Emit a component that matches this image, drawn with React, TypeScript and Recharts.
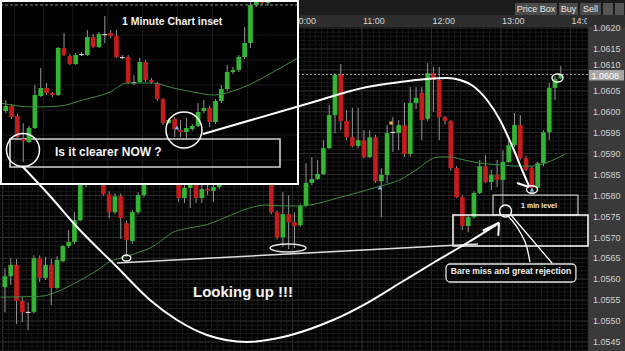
import React from 'react';
import {
  ComposedChart, Bar, Line, XAxis, YAxis, CartesianGrid,
  ReferenceLine, ReferenceArea, ReferenceDot,
} from 'recharts';

// ---------------- main 5 minute chart (EUR/USD) ----------------
const mainOpen = [
  1.05581, 1.05607, 1.05634, 1.05548, 1.05521, 1.05522, 1.05650, 1.05603, 1.05634, 1.05579,
  1.05643, 1.05679, 1.05689, 1.05741, 1.05830, 1.05870, 1.05845, 1.05880, 1.05803, 1.05760,
  1.05798, 1.05734, 1.05691, 1.05760, 1.05801, 1.05840, 1.05880, 1.05860, 1.05895, 1.05870,
  1.05885, 1.05794, 1.05818, 1.05845, 1.05794, 1.05815, 1.05811, 1.05820, 1.05840, 1.05870,
  1.05900, 1.05880, 1.05910, 1.05890, 1.05920, 1.05900, 1.05860, 1.05760, 1.05700, 1.05755,
  1.05736, 1.05729, 1.05775, 1.05830, 1.05839, 1.05851, 1.05913, 1.05992, 1.06088, 1.05978,
  1.05939, 1.05918, 1.05932, 1.05892, 1.05939, 1.05834, 1.05849, 1.05951, 1.05949, 1.05968,
  1.05899, 1.06021, 1.06045, 1.05983, 1.06092, 1.06076, 1.05987, 1.05978, 1.05865, 1.05796,
  1.05727, 1.05748, 1.05806, 1.05870, 1.05832, 1.05849, 1.05837, 1.05880, 1.05920, 1.05968,
  1.05889, 1.05865, 1.05818, 1.05877, 1.05951, 1.06057, 1.06080,
];
const mainHigh = [
  1.05626, 1.05650, 1.05648, 1.05557, 1.05545, 1.05657, 1.05657, 1.05653, 1.05648, 1.05655,
  1.05681, 1.05717, 1.05760, 1.05845, 1.05880, 1.05885, 1.05895, 1.05890, 1.05810, 1.05805,
  1.05805, 1.05740, 1.05765, 1.05808, 1.05850, 1.05885, 1.05890, 1.05900, 1.05905, 1.05895,
  1.05895, 1.05830, 1.05850, 1.05860, 1.05825, 1.05828, 1.05828, 1.05850, 1.05875, 1.05905,
  1.05910, 1.05915, 1.05920, 1.05925, 1.05930, 1.05910, 1.05880, 1.05765, 1.05808, 1.05800,
  1.05760, 1.05780, 1.05877, 1.05892, 1.05885, 1.05932, 1.06016, 1.06092, 1.06114, 1.06004,
  1.06009, 1.06009, 1.05956, 1.05956, 1.05945, 1.05865, 1.05968, 1.05987, 1.05980, 1.06021,
  1.06059, 1.06059, 1.06059, 1.06116, 1.06107, 1.06107, 1.05990, 1.05980, 1.05870, 1.05800,
  1.05752, 1.05810, 1.05885, 1.05896, 1.05861, 1.05885, 1.05908, 1.05932, 1.05997, 1.05992,
  1.05895, 1.05870, 1.05880, 1.05956, 1.06069, 1.06085, 1.06109,
];
const mainLow = [
  1.05521, 1.05586, 1.05493, 1.05497, 1.05478, 1.05518, 1.05593, 1.05598, 1.05538, 1.05576,
  1.05641, 1.05674, 1.05684, 1.05738, 1.05820, 1.05835, 1.05840, 1.05800, 1.05746, 1.05755,
  1.05696, 1.05655, 1.05684, 1.05755, 1.05795, 1.05830, 1.05850, 1.05855, 1.05865, 1.05860,
  1.05784, 1.05782, 1.05770, 1.05782, 1.05782, 1.05801, 1.05784, 1.05815, 1.05835, 1.05865,
  1.05870, 1.05875, 1.05880, 1.05885, 1.05890, 1.05850, 1.05755, 1.05695, 1.05677, 1.05672,
  1.05674, 1.05725, 1.05772, 1.05825, 1.05837, 1.05849, 1.05911, 1.05949, 1.05956, 1.05932,
  1.05915, 1.05913, 1.05889, 1.05889, 1.05830, 1.05748, 1.05830, 1.05904, 1.05908, 1.05892,
  1.05892, 1.06006, 1.05932, 1.05978, 1.06000, 1.05932, 1.05970, 1.05860, 1.05794, 1.05717,
  1.05712, 1.05745, 1.05803, 1.05830, 1.05813, 1.05820, 1.05772, 1.05877, 1.05915, 1.05885,
  1.05858, 1.05806, 1.05813, 1.05870, 1.05932, 1.06028, 1.06078,
];
const mainClose = [
  1.05607, 1.05634, 1.05548, 1.05521, 1.05522, 1.05650, 1.05603, 1.05634, 1.05579, 1.05646,
  1.05679, 1.05689, 1.05741, 1.05830, 1.05870, 1.05845, 1.05880, 1.05803, 1.05760, 1.05798,
  1.05746, 1.05693, 1.05760, 1.05801, 1.05840, 1.05880, 1.05860, 1.05895, 1.05870, 1.05885,
  1.05794, 1.05818, 1.05840, 1.05794, 1.05815, 1.05811, 1.05820, 1.05840, 1.05870, 1.05900,
  1.05880, 1.05910, 1.05890, 1.05920, 1.05900, 1.05860, 1.05760, 1.05700, 1.05755, 1.05736,
  1.05727, 1.05775, 1.05830, 1.05839, 1.05851, 1.05913, 1.05992, 1.06088, 1.05978, 1.05939,
  1.05918, 1.05932, 1.05892, 1.05939, 1.05834, 1.05849, 1.05949, 1.05952, 1.05968, 1.05899,
  1.06021, 1.06033, 1.05980, 1.06092, 1.06076, 1.05987, 1.05978, 1.05865, 1.05796, 1.05727,
  1.05748, 1.05806, 1.05870, 1.05832, 1.05849, 1.05837, 1.05880, 1.05920, 1.05968, 1.05889,
  1.05861, 1.05818, 1.05877, 1.05951, 1.06057, 1.06078, 1.06088,
];

// moving average of the main chart (candle index, price)
const maMainIdx = [-0.8, 6, 10, 12, 16, 18, 21, 23, 25, 27, 29, 31, 35, 39, 42, 45, 48, 51, 54, 58, 61, 65, 68, 71.7, 73.4, 75.1, 76.9, 78.6, 82, 85.5, 88.9, 90.7, 93.3, 96.7];
const maMainVal = [1.05557, 1.05559, 1.05576, 1.05590, 1.05622, 1.05641, 1.05654, 1.05664, 1.05674, 1.05692, 1.05712, 1.05720, 1.05731, 1.05753, 1.05769, 1.05777, 1.05775, 1.05775, 1.05781, 1.05796, 1.05807, 1.05823, 1.05836, 1.05868, 1.05885, 1.05892, 1.05892, 1.05887, 1.05877, 1.05873, 1.05870, 1.05870, 1.05877, 1.05899];

const timeTickIdx = [49.66, 61.66, 73.66, 85.66, 97.66];
const timeTickLabels = ['10:00', '11:00', '12:00', '13:00', '14:00'];
const priceTicks = [1.0545, 1.055, 1.0555, 1.056, 1.0565, 1.057, 1.0575, 1.058, 1.0585, 1.059, 1.0595, 1.06, 1.0605, 1.061, 1.0615, 1.062];
const currentPrice = 1.06089;
const currentPriceLabel = '1.0608';

// ---------------- 1 minute inset ----------------
const insetOpen = [
  1.05689, 1.05694, 1.05684, 1.05661, 1.05658, 1.05672, 1.05704, 1.05712, 1.05707, 1.05705,
  1.05752, 1.05744, 1.05736, 1.05746, 1.05745, 1.05763, 1.05753, 1.05766, 1.05767, 1.05764,
  1.05743, 1.05743, 1.05718, 1.05718, 1.05738, 1.05720, 1.05717, 1.05701, 1.05677, 1.05681,
  1.05670, 1.05668, 1.05671, 1.05674, 1.05689, 1.05692, 1.05678, 1.05699, 1.05711, 1.05728,
  1.05730, 1.05743, 1.05757, 1.05795, 1.05808, 1.05797,
];
const insetHigh = [
  1.05700, 1.05696, 1.05686, 1.05677, 1.05674, 1.05715, 1.05732, 1.05717, 1.05708, 1.05753,
  1.05767, 1.05746, 1.05747, 1.05748, 1.05770, 1.05766, 1.05768, 1.05784, 1.05770, 1.05770,
  1.05745, 1.05745, 1.05725, 1.05742, 1.05740, 1.05722, 1.05718, 1.05702, 1.05682, 1.05683,
  1.05680, 1.05682, 1.05676, 1.05697, 1.05700, 1.05694, 1.05701, 1.05715, 1.05735, 1.05733,
  1.05745, 1.05773, 1.05798, 1.05808, 1.05810, 1.05812,
];
const insetLow = [
  1.05687, 1.05681, 1.05661, 1.05638, 1.05657, 1.05671, 1.05703, 1.05705, 1.05703, 1.05704,
  1.05744, 1.05735, 1.05735, 1.05744, 1.05744, 1.05752, 1.05752, 1.05757, 1.05762, 1.05742,
  1.05741, 1.05716, 1.05715, 1.05717, 1.05718, 1.05716, 1.05699, 1.05675, 1.05676, 1.05663,
  1.05663, 1.05661, 1.05669, 1.05673, 1.05687, 1.05673, 1.05676, 1.05697, 1.05709, 1.05726,
  1.05728, 1.05741, 1.05752, 1.05793, 1.05795, 1.05795,
];
const insetClose = [
  1.05694, 1.05683, 1.05663, 1.05659, 1.05672, 1.05705, 1.05712, 1.05707, 1.05705, 1.05752,
  1.05745, 1.05736, 1.05745, 1.05746, 1.05763, 1.05753, 1.05766, 1.05766, 1.05764, 1.05743,
  1.05743, 1.05717, 1.05718, 1.05738, 1.05720, 1.05718, 1.05701, 1.05677, 1.05680, 1.05671,
  1.05668, 1.05672, 1.05674, 1.05688, 1.05692, 1.05678, 1.05699, 1.05711, 1.05728, 1.05730,
  1.05743, 1.05757, 1.05795, 1.05804, 1.05797, 1.05806,
];
const insetMaIdx = [-1, 4.7, 9.3, 13.2, 17.9, 20.8, 25.3, 28.7, 32.1, 35.6, 39, 42.4, 45.9, 50.1];
const insetMaVal = [1.05697, 1.05693, 1.05694, 1.05700, 1.05708, 1.05717, 1.05717, 1.05712, 1.05708, 1.05705, 1.05709, 1.05717, 1.05728, 1.05742];
const insetLastPrice = 1.05795;

// ---------------- hand drawn annotations (main chart coordinates) ----------------
const arcIdx = [34.2, 52.68, 62.52, 68.22, 72.88, 76.34, 78.58, 80.83, 83.25, 85.49, 87.74, 89.46, 90.5];
const arcVal = [1.059468, 1.060208, 1.06059, 1.06071, 1.060782, 1.060806, 1.060758, 1.060614, 1.06028, 1.059802, 1.059133, 1.05856, 1.058225];
const lookIdx = [2.94, 7.77, 12.44, 19.34, 25.04, 29.71, 34.89, 41.8, 48.01, 52.68, 56.65, 62.52, 68.22, 73.92, 79.79, 85.32];
const lookVal = [1.058703, 1.057986, 1.057246, 1.05629, 1.055502, 1.055024, 1.054666, 1.054499, 1.054618, 1.054809, 1.055024, 1.05543, 1.055908, 1.056386, 1.056864, 1.057341];
const rejIdx = [86.87, 88.94, 90.16, 90.67];
const rejVal = [1.057509, 1.057126, 1.056744, 1.05641];

const FONT = '"Liberation Sans", Arial, sans-serif';
const UP = '#33b533';
const DOWN = '#c21c1c';
const DOJI = '#d4d4d4';
const WICK = '#979797';
const MA = '#3f8c3f';
const PLOT_RIGHT = 588;

const MAIN_X: [number, number] = [-0.864, 100.69];
const MAIN_Y: [number, number] = [1.054284, 1.062024];
const INSET_X: [number, number] = [-0.995, 50.32];
const INSET_Y: [number, number] = [1.05615, 1.058];

const Candle = (props: any) => {
  const { x, y, width, height } = props;
  const d = props.payload || props;
  const { o, h, l, c } = d;
  if (x == null || y == null) return null;
  const cx = x + width / 2;
  const span = h - l || 1e-9;
  const toY = (v: number) => y + ((h - v) / span) * height;
  const top = toY(Math.max(o, c));
  const bot = toY(Math.min(o, c));
  const doji = Math.abs(c - o) < 0.000015;
  const col = doji ? DOJI : c >= o ? UP : DOWN;
  const bw = 4.7;
  return (
    <g>
      <line x1={cx} x2={cx} y1={y} y2={y + height} stroke={WICK} strokeWidth={1} />
      <rect x={cx - bw / 2} y={top} width={bw} height={Math.max(bot - top, 1.2)} fill={col} />
    </g>
  );
};

// time labels start at the hour line; the last one is cut by the price panel
const TimeTick = (p: any) => {
  const k = timeTickIdx.indexOf(p.payload.value);
  const w = Math.max(0, Math.min(30, PLOT_RIGHT - 1 - p.x));
  return (
    <svg x={p.x} y={p.y - 10} width={w} height={12} overflow="hidden">
      <text x={1} y={10} fill="#d6d6d6" fontSize={9} fontFamily={FONT}>
        {timeTickLabels[k]}
      </text>
    </svg>
  );
};

// price labels; 1.0610 sits just above the current-price tag
const PriceTickLabel = (p: any) => {
  const v = p.payload.value;
  const nudge = Math.abs(v - 1.061) < 1e-7 ? -5 : 0;
  return (
    <text x={p.x} y={p.y + 3.2 + nudge} fill="#d2d2d2" fontSize={9} fontFamily={FONT}>
      {Number(v).toFixed(4)}
    </text>
  );
};

const PriceTag = (p: any) => {
  const vb = p.viewBox || {};
  const x = (vb.x || 0) + (vb.width || 0);
  const y = vb.y || 0;
  return (
    <g>
      <rect x={x + 1} y={y - 4.5} width={35} height={10.5} fill="#a6a6a6" />
      <text x={x + 3.5} y={y + 4.2} fill="#ffffff" fontSize={9} fontFamily={FONT}>{currentPriceLabel}</text>
    </g>
  );
};

const ellipseShape = (rx: number, ry: number, color = '#ffffff', sw = 1.4) => (p: any) => (
  <ellipse cx={p.cx} cy={p.cy} rx={rx} ry={ry} fill="none" stroke={color} strokeWidth={sw} />
);
const triShape = (color: string) => (p: any) => (
  <path d={`M${p.cx},${p.cy - 2.5} L${p.cx + 2.2},${p.cy + 1.5} L${p.cx - 2.2},${p.cy + 1.5} Z`} fill={color} />
);
const sqShape = (color: string) => (p: any) => (
  <rect x={p.cx - 1.6} y={p.cy - 1.6} width={3.2} height={3.2} fill={color} />
);

const range = (a: number, b: number) => {
  const out: number[] = [];
  for (let k = a; k <= b; k++) out.push(k);
  return out;
};

export default function App() {
  const mainRows = mainOpen.map((o, i) => ({
    i, o, h: mainHigh[i], l: mainLow[i], c: mainClose[i], range: [mainLow[i], mainHigh[i]],
  }));
  const insetRows = insetOpen.map((o, i) => ({
    i, o, h: insetHigh[i], l: insetLow[i], c: insetClose[i], range: [insetLow[i], insetHigh[i]],
  }));
  const maMain = maMainIdx.map((i, k) => ({ i, v: maMainVal[k] }));
  const maInset = insetMaIdx.map((i, k) => ({ i, v: insetMaVal[k] }));
  const arc = arcIdx.map((i, k) => ({ i, v: arcVal[k] }));
  const look = lookIdx.map((i, k) => ({ i, v: lookVal[k] }));
  const rej = rejIdx.map((i, k) => ({ i, v: rejVal[k] }));

  const minorH = range(10543, 10620).map((k) => k / 10000);
  const minorV = range(0, 101).map((k) => k - 0.34);
  const insetH = range(211230, 211600).filter((k) => k % 10 === 0).map((k) => k / 200000);
  const insetV = range(0, 51).map((k) => k - 0.5);

  const btn = (label: string, left: number, width: number) => (
    <div key={label} style={{
      position: 'absolute', left, top: 3, width, height: 12, background: '#4b4b4b',
      color: '#e8e8e8', fontSize: 9, lineHeight: '12px', textAlign: 'center', fontFamily: FONT,
    }}>{label}</div>
  );

  return (
    <div style={{ position: 'absolute', left: 0, top: 0, width: 625, height: 351, background: '#000', overflow: 'hidden', fontFamily: FONT }}>
      {/* window chrome */}
      <div style={{ position: 'absolute', left: 0, top: 0, width: 625, height: 15, background: '#1c1c1c' }} />
      <div style={{ position: 'absolute', left: 0, top: 15, width: 625, height: 12, background: '#2e2e2e' }} />
      <div style={{ position: 'absolute', left: 588, top: 27, width: 37, height: 324, background: '#3a3a3a' }} />
      <div style={{ position: 'absolute', left: 2, top: 27, width: 1, height: 324, background: '#3a3a3a' }} />

      {/* main chart */}
      <div style={{ position: 'absolute', left: 0, top: 0 }}>
        <ComposedChart width={625} height={351} data={mainRows} margin={{ top: 15, right: 0, bottom: 0, left: 0 }}>
          <CartesianGrid stroke="#191919" horizontalValues={minorH} verticalValues={minorV} />
          <CartesianGrid stroke="#2b2b2b" horizontalValues={priceTicks} verticalValues={timeTickIdx} />
          <XAxis dataKey="i" type="number" orientation="top" height={12} domain={MAIN_X} allowDataOverflow
            ticks={timeTickIdx} interval={0} tick={TimeTick} tickLine={false} axisLine={false} tickSize={0} tickMargin={3} />
          <YAxis type="number" orientation="right" width={37} domain={MAIN_Y} allowDataOverflow
            ticks={priceTicks} interval={0} tick={PriceTickLabel} tickLine={false} axisLine={false} tickSize={0} tickMargin={5} />
          <ReferenceLine y={currentPrice} stroke="#a0a0a0" strokeDasharray="2 2" />
          <Line data={maMain} dataKey="v" type="monotone" stroke={MA} strokeWidth={1} dot={false} isAnimationActive={false} />
          <Bar dataKey="range" barSize={5} shape={Candle} isAnimationActive={false} />
          <ReferenceDot x={64.77} y={1.058178} r={2} shape={triShape('#7fb8e8')} />
          <ReferenceDot x={91.02} y={1.05813} r={2} shape={triShape('#7fb8e8')} />
          <ReferenceDot x={66.67} y={1.05973} r={2} shape={sqShape('#f2b04c')} />
        </ComposedChart>
      </div>

      {/* top toolbar */}
      {btn('Price Box', 515, 42)}
      {btn('Buy', 559, 19)}
      {btn('Sell', 580, 21)}
      <div style={{ position: 'absolute', left: 603, top: 3, width: 10, height: 12, background: '#555' }} />
      <div style={{ position: 'absolute', left: 615, top: 3, width: 9, height: 12, background: '#555' }} />

      {/* 1 minute inset */}
      <div style={{ position: 'absolute', left: 0, top: 0, width: 299, height: 185, background: '#000' }}>
        <ComposedChart width={299} height={185} data={insetRows} margin={{ top: 0, right: 0, bottom: 0, left: 0 }}>
          <CartesianGrid stroke="#1b1b1b" horizontalValues={insetH} verticalValues={insetV} />
          <XAxis dataKey="i" type="number" domain={INSET_X} allowDataOverflow hide />
          <YAxis type="number" domain={INSET_Y} allowDataOverflow hide />
          <ReferenceLine y={insetLastPrice} stroke="#8c8c8c" strokeDasharray="3 2" />
          <Line data={maInset} dataKey="v" type="monotone" stroke={MA} strokeWidth={1} dot={false} isAnimationActive={false} />
          <Bar dataKey="range" barSize={5} shape={Candle} isAnimationActive={false} />
          <ReferenceDot x={29.38} y={1.05672} r={2} shape={triShape('#7fb8e8')} />
          <ReferenceArea x1={0.72} x2={47.06} y1={1.05633} y2={1.05661} fill="none" stroke="#d2d2d2" strokeWidth={1.6} ifOverflow="visible" />
          <ReferenceDot x={2.95} y={1.0565} r={16.5} fill="none" stroke="#ffffff" strokeWidth={1.5} ifOverflow="visible" />
          <ReferenceDot x={30.58} y={1.0567} r={18} fill="none" stroke="#ffffff" strokeWidth={1.5} ifOverflow="visible" />
        </ComposedChart>
        <div style={{ position: 'absolute', left: 0, top: 0, width: 299, height: 185, boxSizing: 'border-box', border: '2px solid #ffffff' }} />
      </div>

      {/* annotation overlay in main-chart coordinates */}
      <div style={{ position: 'absolute', left: 0, top: 0, pointerEvents: 'none' }}>
        <ComposedChart width={625} height={351} data={[]} margin={{ top: 27, right: 37, bottom: 0, left: 0 }}>
          <XAxis dataKey="i" type="number" domain={MAIN_X} allowDataOverflow hide />
          <YAxis type="number" domain={MAIN_Y} allowDataOverflow hide />
          <ReferenceLine y={currentPrice} stroke="none" label={PriceTag} ifOverflow="visible" />
          <ReferenceLine segment={[{ x: 19.34, y: 1.056386 }, { x: 81.69, y: 1.05684 }]} stroke="#dedede" strokeWidth={1.5} ifOverflow="visible" />
          <ReferenceArea x1={84.28} x2={98.96} y1={1.057533} y2={1.05801} fill="none" stroke="#c8c8c8" strokeWidth={1.2} ifOverflow="visible" />
          <ReferenceArea x1={77.37} x2={100.69} y1={1.056792} y2={1.057533} fill="none" stroke="#ffffff" strokeWidth={1.5} ifOverflow="visible" />
          <ReferenceArea x1={76.17} x2={98.6} y1={1.055932} y2={1.056362} fill="#000" stroke="#e2e2e2" strokeWidth={1.3} radius={4} ifOverflow="visible" />
          <Line data={arc} dataKey="v" type="monotone" stroke="#ffffff" strokeWidth={2} dot={false} isAnimationActive={false} />
          <Line data={look} dataKey="v" type="monotone" stroke="#ffffff" strokeWidth={2} dot={false} isAnimationActive={false} />
          <Line data={rej} dataKey="v" type="monotone" stroke="#ffffff" strokeWidth={1.3} dot={false} isAnimationActive={false} />
          <ReferenceLine segment={[{ x: 87.39, y: 1.057533 }, { x: 94.47, y: 1.056386 }]} stroke="#ffffff" strokeWidth={1.3} ifOverflow="visible" />
          <ReferenceLine segment={[{ x: 90.5, y: 1.058201 }, { x: 88.43, y: 1.058297 }]} stroke="#ffffff" strokeWidth={2} ifOverflow="visible" />
          <ReferenceLine segment={[{ x: 85.32, y: 1.057349 }, { x: 82.5, y: 1.057157 }]} stroke="#ffffff" strokeWidth={2} ifOverflow="visible" />
          <ReferenceLine segment={[{ x: 85.32, y: 1.057349 }, { x: 85.2, y: 1.057038 }]} stroke="#ffffff" strokeWidth={2} ifOverflow="visible" />
          <ReferenceDot x={20.98} y={1.056505} r={4} shape={ellipseShape(4.3, 3)} ifOverflow="visible" />
          <ReferenceDot x={48.88} y={1.056744} r={4} shape={ellipseShape(18, 4, '#e6e6e6')} ifOverflow="visible" />
          <ReferenceDot x={91.02} y={1.058142} r={4} shape={ellipseShape(5.5, 3.7)} ifOverflow="visible" />
          <ReferenceDot x={86.44} y={1.057628} r={4} shape={ellipseShape(6, 6)} ifOverflow="visible" />
          <ReferenceDot x={95.42} y={1.060806} r={4} shape={ellipseShape(5.5, 4)} ifOverflow="visible" />
        </ComposedChart>
      </div>

      {/* annotation texts */}
      <svg width={625} height={351} style={{ position: 'absolute', left: 0, top: 0, pointerEvents: 'none' }}>
        <text x={122} y={25} fill="#f4f4f4" fontSize={10.5} fontWeight="bold" fontFamily={FONT}>1 Minute Chart inset</text>
        <text x={55} y={156} fill="#f4f4f4" fontSize={12} fontWeight="bold" fontFamily={FONT}>Is it clearer NOW ?</text>
        <text x={193} y={296.5} fill="#f4f4f4" fontSize={15} fontWeight="bold" fontFamily={FONT}>Looking up !!!</text>
        <text x={539} y={207.5} fill="#f0f0f0" fontSize={7} fontWeight="bold" textAnchor="middle" fontFamily={FONT}>1 min level</text>
        <text x={511} y={274} fill="#f0f0f0" fontSize={8.6} fontWeight="bold" textAnchor="middle" fontFamily={FONT}>Bare miss and great rejection</text>
      </svg>
    </div>
  );
}
